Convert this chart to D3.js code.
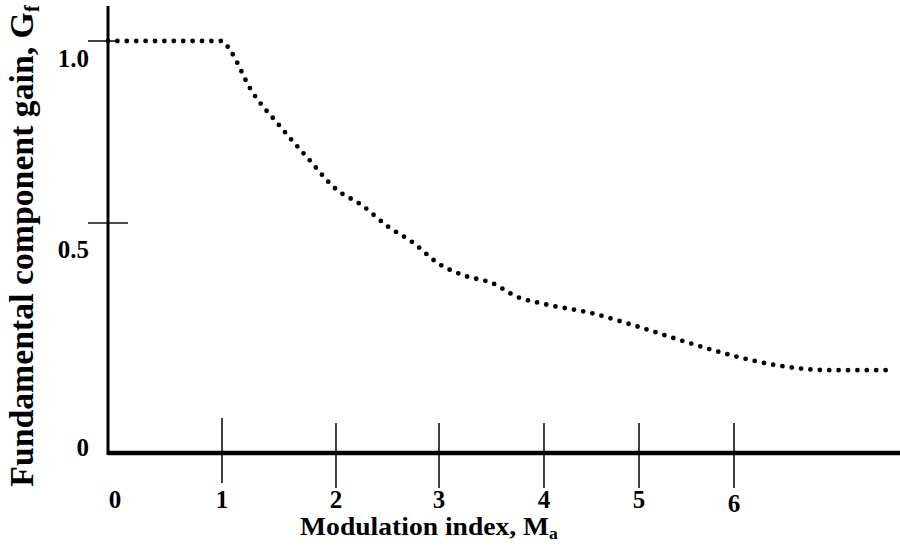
<!DOCTYPE html>
<html>
<head>
<meta charset="utf-8">
<script src="https://cdn.jsdelivr.net/npm/d3@7"></script>
<style>
  body{margin:0;background:#fff;}
</style>
</head>
<body>
<div id="chart"></div>
<script>
// modulation index vs fundamental gain
const modIndex = [0, 0.5, 1, 1.07, 1.25, 1.5, 1.75, 2, 2.25, 2.5, 2.75, 3, 3.25, 3.5, 3.75, 4, 4.5, 5, 5.5, 6, 6.5, 7, 7.65];
const gain     = [1.0, 1.0, 1.0, 0.975, 0.868, 0.769, 0.679, 0.593, 0.549, 0.493, 0.457, 0.411, 0.385, 0.370, 0.339, 0.324, 0.304, 0.274, 0.241, 0.211, 0.189, 0.180, 0.180];

const xTicks = [0, 1, 2, 3, 4, 5, 6];
const xTickLabels = ["0", "1", "2", "3", "4", "5", "6"];
const yTicks = [0, 0.5, 1.0];
const yTickLabels = ["0", "0.5", "1.0"];

const opt={width:900,height:548,font:"'Liberation Serif', 'Times New Roman', serif"}

// the original axis is hand drawn, so the spacing is not even
const xScale=d3.scaleLinear()
  .domain([0,1,2,3,4,5,6,7.75])
  .range([108,222,336,439,544,639,734,900]);

const yScale=d3.scaleLinear()
  .domain([0,0.5,1])
  .range([453,223,41]);

const svg=d3.select("#chart")
  .append("svg")
  .attr("width",opt.width)
  .attr("height",opt.height)

// x tick marks (long, crossing the axis)
svg.selectAll("line.xt")
  .data(xTicks.filter(d=>d>0))
  .enter()
  .append("line")
  .attr("class","xt")
  .attr("x1",d=>xScale(d))
  .attr("x2",d=>xScale(d))
  .attr("y1",d=>d===1?418:423)
  .attr("y2",d=>d===1?483:488)
  .attr("stroke","#111")
  .attr("stroke-width",1.6)

// y tick marks
svg.selectAll("line.yt")
  .data(yTicks.filter(d=>d>0))
  .enter()
  .append("line")
  .attr("class","yt")
  .attr("x1",88)
  .attr("x2",d=>d===1?116:128)
  .attr("y1",d=>yScale(d))
  .attr("y2",d=>yScale(d))
  .attr("stroke","#111")
  .attr("stroke-width",1.6)

// axes
svg.append("line")
  .attr("x1",xScale(0)).attr("x2",opt.width)
  .attr("y1",yScale(0)).attr("y2",yScale(0))
  .attr("stroke","#000").attr("stroke-width",4.5)

svg.append("line")
  .attr("x1",xScale(0)).attr("x2",xScale(0))
  .attr("y1",6).attr("y2",yScale(0)+2)
  .attr("stroke","#000").attr("stroke-width",3)

// dotted curve
const pts=modIndex.map((d,i)=>[d,gain[i]]);
const line=d3.line()
  .x(d=>xScale(d[0]))
  .y(d=>yScale(d[1]))
  .curve(d3.curveMonotoneX);

svg.append("path")
  .datum(pts)
  .attr("d",line)
  .attr("fill","none")
  .attr("stroke","#000")
  .attr("stroke-width",4.8)
  .attr("stroke-linecap","round")
  .attr("stroke-dasharray","0 9.4")

function bold(sel,size){
  return sel.style("font-family",opt.font)
    .style("font-weight","bold")
    .style("font-size",size+"px")
    .style("fill","#000");
}

// tick labels
svg.selectAll("text.xl")
  .data(xTicks)
  .enter()
  .append("text")
  .attr("class","xl")
  .attr("x",d=>d===0?xScale(d)+7:xScale(d))
  .attr("y",d=>d===6?512:508)
  .attr("text-anchor","middle")
  .call(bold,25)
  .text((d,i)=>xTickLabels[i])

svg.selectAll("text.yl")
  .data(yTicks)
  .enter()
  .append("text")
  .attr("class","yl")
  .attr("x",89)
  .attr("y",d=>d===0?yScale(d)+3:yScale(d)+(d===1?26:35))
  .attr("text-anchor","end")
  .call(bold,25)
  .text((d,i)=>yTickLabels[i])

// axis titles, stretched to the width they have in the picture
function stretch(sel,target){
  const w=sel.node().getBBox().width;
  return target/w;
}

const xTitle=svg.append("text")
  .attr("text-anchor","middle")
  .call(bold,25);
xTitle.append("tspan").text("Modulation index, M");
xTitle.append("tspan").style("font-size","16px").attr("dy",4).text("a");
const sx=stretch(xTitle,258);
xTitle.attr("transform","translate(429,535) scale("+sx+",1)");

const yTitle=svg.append("text")
  .attr("text-anchor","middle")
  .call(bold,33);
yTitle.append("tspan").text("Fundamental component gain, G");
yTitle.append("tspan").style("font-size","20px").attr("dy",6).text("f");
const sy=stretch(yTitle,482);
yTitle.attr("transform","translate(33,246) rotate(-90) scale("+sy+",1)");
</script>
</body>
</html>
